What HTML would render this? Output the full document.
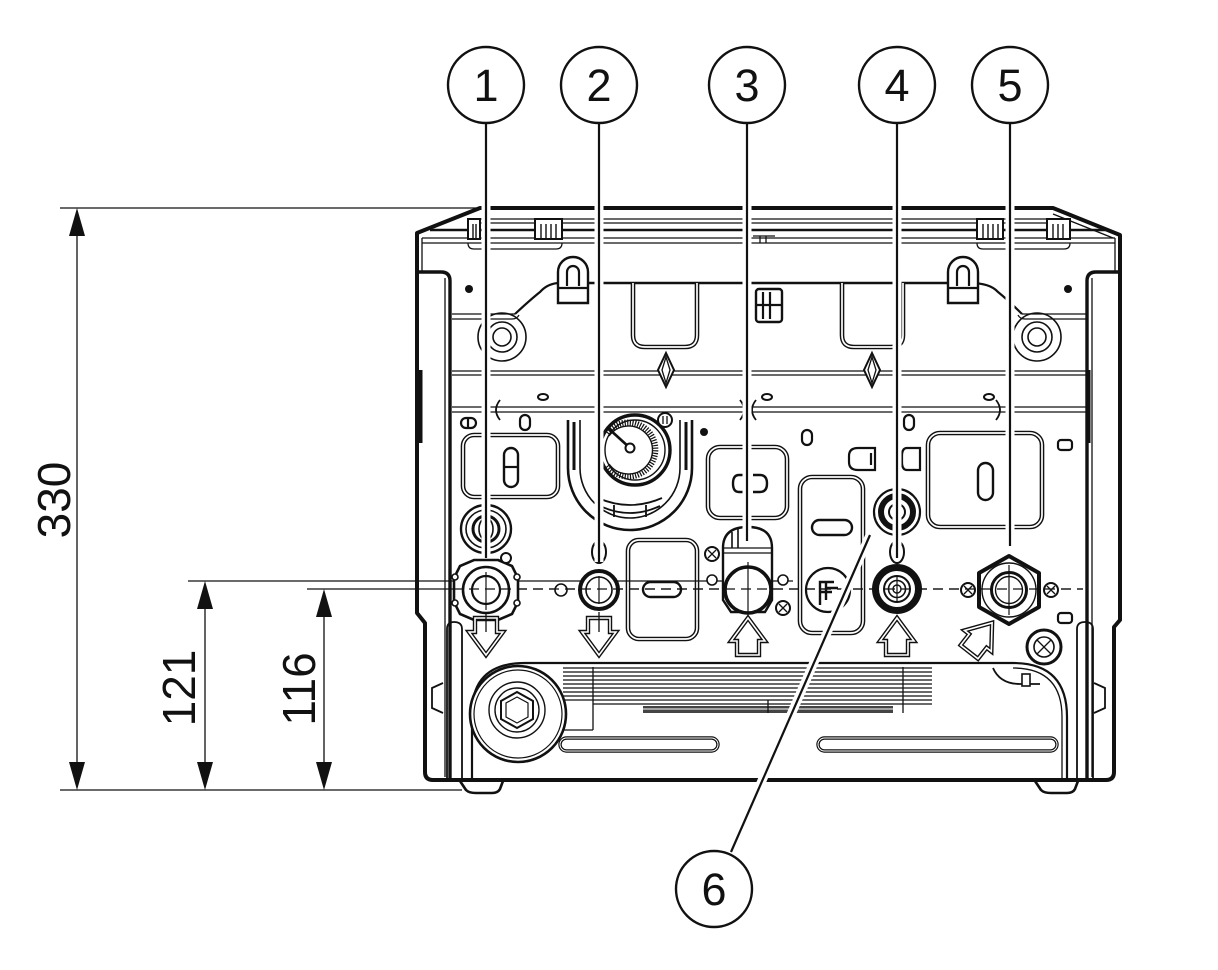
<!DOCTYPE html>
<html><head><meta charset="utf-8"><style>html,body{margin:0;padding:0;background:#fff}svg{display:block}
.t{fill:none;stroke:#111;stroke-width:1.3}
.m{fill:none;stroke:#111;stroke-width:2.2}
.k{fill:none;stroke:#111;stroke-width:4}
.d1{fill:none;stroke:#111;stroke-width:4.6}
.d2{fill:none;stroke:#fff;stroke-width:1.7}
</style></head>
<body>
<svg width="1218" height="970" viewBox="0 0 1218 970" xmlns="http://www.w3.org/2000/svg" font-family="'Liberation Sans', Arial, sans-serif">
<defs>
 <path id="dn" d="M-11,0 L11,0 L11,14 L17,14 L0,37 L-17,14 L-11,14 Z"/>
 <path id="up" d="M-11,37 L11,37 L11,23 L17,23 L0,0 L-17,23 L-11,23 Z"/>
 <rect id="rrL" x="463" y="435" width="95" height="62" rx="11"/>
 <rect id="rrM1" x="708" y="447" width="79" height="71" rx="12"/>
 <rect id="rrM2" x="628" y="540" width="69" height="99" rx="11"/>
 <rect id="rrT" x="800" y="477" width="63" height="156" rx="12"/>
 <rect id="rrR" x="928" y="433" width="114" height="94" rx="12"/>
 <path id="pkL" d="M633,283 V335 Q633,347 645,347 H685 Q697,347 697,335 V283"/>
 <path id="pkR" d="M842,283 V335 Q842,347 854,347 H891 Q903,347 903,335 V283"/>
 <path id="dmL" d="M666,353 L674,370 L666,387 L658,370 Z"/>
 <path id="dmR" d="M872,353 L880,370 L872,387 L864,370 Z"/>
 <path id="hkL" d="M558,303 V272 A15,15 0 0 1 588,272 V303 Z"/>
 <path id="hkR" d="M948,303 V272 A15,15 0 0 1 978,272 V303 Z"/>
 <path id="strL" d="M447,780 V629 Q447,622 454,622 Q462,622 462,629 V780"/>
 <path id="strR" d="M1077,780 V629 Q1077,622 1085,622 Q1093,622 1093,629 V780"/>
 <rect id="slL" x="560" y="738" width="158" height="13" rx="6.5"/>
 <rect id="slR" x="818" y="738" width="239" height="13" rx="6.5"/>
</defs>

<!-- ===== BODY OUTER ===== -->
<path class="k" d="M480,208 H1053 L1120,235 V620 L1114,627 V772 Q1114,780 1106,780 H433 Q425,780 425,772 V623 L417,613 V233 Z" stroke-linejoin="round"/>
<!-- feet -->
<path class="m" d="M460,781 L466,790 Q469,793 476,793 H492 Q498,793 500,789 L503,781" style="stroke-width:2.6"/>
<path class="m" d="M1035,781 L1041,790 Q1044,793 1051,793 H1067 Q1073,793 1075,789 L1078,781" style="stroke-width:2.6"/>

<!-- top strip lines -->
<line class="t" x1="480" y1="219" x2="1060" y2="219"/>
<line class="t" x1="470" y1="223" x2="1068" y2="223"/>
<line x1="430" y1="230" x2="1105" y2="230" stroke="#111" stroke-width="2.6"/>
<line class="t" x1="422" y1="238" x2="1115" y2="238"/>
<line class="t" x1="422" y1="243" x2="1115" y2="243"/>
<line class="t" x1="1053" y1="214" x2="1113" y2="238"/>
<path class="t" d="M468,243 Q468,249 474,249 H556 Q562,249 562,243"/>
<path class="t" d="M977,243 Q977,249 983,249 H1064 Q1070,249 1070,243"/>
<!-- clips -->
<g fill="#fff" stroke="#111" stroke-width="2">
<rect x="468" y="219" width="12" height="20"/>
<rect x="535" y="219" width="27" height="20"/>
<rect x="977" y="219" width="26" height="20"/>
<rect x="1047" y="219" width="23" height="20"/>
</g>
<g stroke="#111" stroke-width="1.4">
<line x1="473" y1="224" x2="473" y2="238"/><line x1="476" y1="224" x2="476" y2="238"/>
<line x1="541" y1="224" x2="541" y2="238"/><line x1="546" y1="224" x2="546" y2="238"/><line x1="551" y1="224" x2="551" y2="238"/><line x1="556" y1="224" x2="556" y2="238"/>
<line x1="983" y1="224" x2="983" y2="238"/><line x1="988" y1="224" x2="988" y2="238"/><line x1="993" y1="224" x2="993" y2="238"/><line x1="998" y1="224" x2="998" y2="238"/>
<line x1="1053" y1="224" x2="1053" y2="238"/><line x1="1058" y1="224" x2="1058" y2="238"/><line x1="1063" y1="224" x2="1063" y2="238"/>
</g>
<path class="t" d="M760,243 V236 M753,236 H775 M766,236 V243"/>

<!-- inner wall thin lines -->
<line class="t" x1="422" y1="238" x2="422" y2="272"/>
<line class="t" x1="1115" y1="238" x2="1115" y2="272"/>

<!-- left side panel -->
<path class="k" d="M417,272 H441 Q450,272 450,281 V780" style="stroke-width:3.4"/>
<line class="t" x1="445" y1="278" x2="445" y2="777"/>
<line x1="420" y1="370" x2="420" y2="443" stroke="#111" stroke-width="5"/>
<!-- right side panel -->
<path class="k" d="M1120,272 H1096 Q1087,272 1087,281 V780" style="stroke-width:3.4"/>
<line class="t" x1="1092" y1="278" x2="1092" y2="777"/>
<line x1="1088" y1="370" x2="1088" y2="443" stroke="#111" stroke-width="5"/>

<!-- hooks & curve -->
<line x1="557" y1="283" x2="973" y2="283" stroke="#111" stroke-width="2.6"/>
<path class="m" d="M515,314 Q530,300 540,292 Q548,283 560,283"/>
<path class="m" d="M1022,314 Q1008,300 998,292 Q990,283 970,283"/>
<path class="t" d="M452,314 H515 M452,319 H512 Q517,319 519,315"/>
<path class="t" d="M1087,314 H1022 M1087,319 H1025 Q1020,319 1018,315"/>
<use href="#hkL" fill="#fff" stroke="#111" stroke-width="2.4"/>
<use href="#hkR" fill="#fff" stroke="#111" stroke-width="2.4"/>
<path class="m" d="M567,286 V272 A6,6 0 0 1 579,272 V286"/>
<path class="m" d="M957,286 V272 A6,6 0 0 1 969,272 V286"/>
<line class="m" x1="558" y1="288" x2="588" y2="288"/>
<line class="m" x1="948" y1="288" x2="978" y2="288"/>
<!-- dots -->
<circle cx="469" cy="289" r="4" fill="#111"/>
<circle cx="1068" cy="289" r="4" fill="#111"/>
<circle cx="704" cy="432" r="4" fill="#111"/>
<!-- round bosses -->
<g class="t" style="stroke-width:1.6"><circle cx="502" cy="337" r="24"/><circle cx="502" cy="337" r="15"/><circle cx="502" cy="337" r="9"/>
<circle cx="1037" cy="337" r="24"/><circle cx="1037" cy="337" r="15"/><circle cx="1037" cy="337" r="9"/></g>
<!-- pockets -->
<use href="#pkL" class="d1"/><use href="#pkL" class="d2"/>
<use href="#pkR" class="d1"/><use href="#pkR" class="d2"/>
<!-- clip symbol -->
<rect x="756" y="289" width="26" height="33" rx="3" fill="#fff" stroke="#111" stroke-width="2.4"/>
<path class="m" d="M763,292 V319 M770,292 V319 M756,305 H782"/>

<!-- ribs -->
<line class="t" x1="452" y1="371" x2="1087" y2="371"/>
<line class="t" x1="452" y1="375" x2="1087" y2="375"/>
<line class="t" x1="452" y1="407" x2="1087" y2="407"/>
<line class="t" x1="452" y1="412" x2="1087" y2="412"/>
<use href="#dmL" fill="#fff" stroke="#111" stroke-width="2"/>
<use href="#dmR" fill="#fff" stroke="#111" stroke-width="2"/>
<path class="t" d="M666,357 L670,370 L666,383 L662,370 Z M872,357 L876,370 L872,383 L868,370 Z"/>
<g fill="#fff" stroke="#111" stroke-width="2">
<ellipse cx="543" cy="397" rx="5" ry="3"/><ellipse cx="767" cy="397" rx="5" ry="3"/><ellipse cx="989" cy="397" rx="5" ry="3"/>
</g>
<path class="m" d="M484,400 Q492,410 484,420 M500,400 Q492,410 500,420 M740,400 Q748,410 740,420 M756,400 Q748,410 756,420 M996,400 Q1004,410 996,420 M1012,400 Q1004,410 1012,420" style="stroke-width:1.8"/>

<!-- small features row -->
<rect x="461" y="418" width="15" height="10" rx="5" fill="#fff" stroke="#111" stroke-width="2.2"/>
<line class="m" x1="468" y1="418" x2="468" y2="428"/>
<rect x="520" y="415" width="10" height="15" rx="5" fill="#fff" stroke="#111" stroke-width="2.2"/>
<rect x="802" y="430" width="10" height="15" rx="5" fill="#fff" stroke="#111" stroke-width="2.2"/>
<rect x="799" y="415" width="10" height="15" rx="5" fill="#fff" stroke="#111" stroke-width="2.2" transform="translate(105,0)"/>
<path d="M875,448 H858 Q849,448 849,456 V462 Q849,470 858,470 H875 Z" fill="#fff" stroke="#111" stroke-width="2.2"/>
<line class="m" x1="871" y1="453" x2="871" y2="465"/>
<path d="M920,448 H907 Q902,448 902,456 V462 Q902,470 907,470 H920 Z" fill="#fff" stroke="#111" stroke-width="2.2"/>
<rect x="1058" y="440" width="14" height="10" rx="3" fill="#fff" stroke="#111" stroke-width="2.2"/>
<rect x="1058" y="613" width="14" height="10" rx="3" fill="#fff" stroke="#111" stroke-width="2.2"/>

<!-- left panel -->
<use href="#rrL" class="d1"/><use href="#rrL" class="d2"/>
<rect x="504" y="448" width="14" height="39" rx="7" fill="#fff" stroke="#111" stroke-width="2.4"/>
<line class="m" x1="504" y1="467" x2="518" y2="467"/>
<!-- right panel -->
<use href="#rrR" class="d1"/><use href="#rrR" class="d2"/>
<rect x="978" y="463" width="15" height="37" rx="7.5" fill="#fff" stroke="#111" stroke-width="2.4"/>
<!-- middle panels -->
<use href="#rrM1" class="d1"/><use href="#rrM1" class="d2"/>
<path class="m" d="M745,475 H739 Q733,475 733,483.5 Q733,492 739,492 H745 Z M753,475 H760 Q767,475 767,483.5 Q767,492 760,492 H753" style="stroke-width:2.4"/>
<use href="#rrM2" class="d1"/><use href="#rrM2" class="d2"/>
<rect x="643" y="582" width="38" height="15" rx="7.5" fill="#fff" stroke="#111" stroke-width="2.4"/>
<use href="#rrT" class="d1"/><use href="#rrT" class="d2"/>
<rect x="812" y="520" width="40" height="15" rx="7.5" fill="#fff" stroke="#111" stroke-width="2.4"/>
<circle cx="828" cy="590" r="22" fill="#fff" stroke="#111" stroke-width="2.2"/>
<path class="m" d="M820,605 V582 H834 M820,592 H832 M826,582 V600 M826,588 H838" style="stroke-width:2.4"/>

<!-- gauge -->
<path class="m" d="M568,420 V468 A62,62 0 0 0 692,468 V420" style="stroke-width:2.6"/>
<path class="t" d="M580,420 V468 A50,50 0 0 0 680,468 V420" style="stroke-width:1.6"/>
<line x1="574" y1="422" x2="574" y2="470" stroke="#111" stroke-width="3"/>
<line x1="686" y1="422" x2="686" y2="470" stroke="#111" stroke-width="3"/>
<path class="t" d="M598,498 Q630,512 662,498 M600,506 Q630,520 660,506 M614,505 V517 M646,505 V517" style="stroke-width:1.8"/>
<circle cx="635" cy="450" r="35" fill="#fff" stroke="#111" stroke-width="3.4"/>
<circle cx="635" cy="450" r="30" fill="none" stroke="#111" stroke-width="1.4"/>
<path d="M607,433 A27,27 0 1 1 607,466" fill="none" stroke="#111" stroke-width="6" stroke-dasharray="1.2 1.4"/>
<path d="M609,436 A24,24 0 1 1 609,464" fill="none" stroke="#111" stroke-width="1.4"/>
<line x1="630" y1="448" x2="608" y2="428" stroke="#111" stroke-width="2.6"/>
<circle cx="630" cy="448" r="4.5" fill="#fff" stroke="#111" stroke-width="2"/>
<circle cx="665" cy="420" r="7" fill="#fff" stroke="#111" stroke-width="2"/>
<path class="t" d="M663,416 V424 M667,416 V424"/>

<!-- grommets -->
<g fill="none" stroke="#111">
<ellipse cx="486" cy="529" rx="25" ry="24" stroke-width="2.4"/>
<ellipse cx="486" cy="529" rx="20" ry="19" stroke-width="1.6"/>
<ellipse cx="486" cy="529" rx="13" ry="13" stroke-width="3"/>
<ellipse cx="486" cy="529" rx="7" ry="11" stroke-width="1.6"/>
<circle cx="897" cy="512" r="23" stroke-width="2.2"/>
<circle cx="897" cy="512" r="16" stroke-width="6"/>
<circle cx="897" cy="512" r="8" stroke-width="2"/>
<ellipse cx="599" cy="552" rx="7" ry="11" stroke-width="2"/>
<ellipse cx="897" cy="552" rx="7" ry="11" stroke-width="2"/>
</g>

<!-- ===== BOTTOM SECTION ===== -->
<path class="m" d="M472,780 V713 Q472,663 525,663 H1013 Q1067,663 1067,717 V780" style="stroke-width:2.2"/>
<path class="t" d="M1013,668 Q1062,668 1062,717 V780"/>
<g stroke="#111" stroke-width="1.2">
<line x1="563" y1="668" x2="932" y2="668"/><line x1="563" y1="672" x2="932" y2="672"/>
<line x1="563" y1="676" x2="932" y2="676"/><line x1="563" y1="680" x2="932" y2="680"/>
<line x1="563" y1="684" x2="932" y2="684"/><line x1="563" y1="688" x2="932" y2="688"/>
<line x1="563" y1="692" x2="932" y2="692"/><line x1="563" y1="696" x2="932" y2="696"/>
<line x1="563" y1="700" x2="932" y2="700"/><line x1="593" y1="704" x2="932" y2="704"/>
</g>
<rect x="643" y="706" width="250" height="7" fill="#444"/>
<line class="t" x1="643" y1="709" x2="893" y2="709" style="stroke:#fff;stroke-width:1"/>
<line class="t" x1="593" y1="667" x2="593" y2="730"/>
<line class="t" x1="563" y1="730" x2="593" y2="730"/>
<line class="t" x1="903" y1="667" x2="903" y2="713"/>
<line class="t" x1="768" y1="700" x2="768" y2="713"/>
<!-- big fitting -->
<circle cx="518" cy="714" r="48" fill="#fff" stroke="#111" stroke-width="2.6"/>
<circle cx="518" cy="714" r="44" fill="none" stroke="#111" stroke-width="1.2"/>
<circle cx="517" cy="710" r="28" fill="none" stroke="#111" stroke-width="1.4"/>
<circle cx="517" cy="710" r="22" fill="none" stroke="#111" stroke-width="1.4"/>
<polygon points="517,692 533,701 533,719 517,728 501,719 501,701" fill="none" stroke="#111" stroke-width="2"/>
<polygon points="517,697 528,703 528,717 517,723 506,717 506,703" fill="none" stroke="#111" stroke-width="1.2"/>
<!-- slots -->
<use href="#slL" class="d1" style="stroke-width:3.4"/><use href="#slL" class="d2" style="stroke-width:1"/>
<use href="#slR" class="d1" style="stroke-width:3.4"/><use href="#slR" class="d2" style="stroke-width:1"/>
<!-- strips & bumps -->
<use href="#strL" class="m" style="stroke-width:1.8"/>
<use href="#strR" class="m" style="stroke-width:1.8"/>
<path class="m" d="M443,683 L432,688 V708 L443,713" style="stroke-width:1.8"/>
<path class="m" d="M1094,683 L1105,688 V708 L1094,713" style="stroke-width:1.8"/>
<!-- cable -->
<path class="m" d="M993,668 Q1000,684 1020,684 H1040" style="stroke-width:1.8"/>
<rect x="1022" y="674" width="8" height="12" fill="#fff" stroke="#111" stroke-width="1.6"/>

<!-- ground screw -->
<circle cx="1044" cy="647" r="17" fill="#fff" stroke="#111" stroke-width="3"/>
<circle cx="1044" cy="647" r="10" fill="none" stroke="#111" stroke-width="1.6"/>
<path class="t" d="M1037,640 L1051,654 M1051,640 L1037,654"/>

<!-- ===== CENTER LINES ===== -->
<line x1="188" y1="581" x2="793" y2="581" stroke="#111" stroke-width="1.3"/>
<line x1="307" y1="589" x2="453" y2="589" stroke="#111" stroke-width="1.3"/>
<line x1="453" y1="589" x2="1083" y2="589" stroke="#111" stroke-width="1.3" stroke-dasharray="10 6"/>

<!-- ===== CONNECTIONS ===== -->
<!-- 1 -->
<polygon points="498,560 512,566 518,578 518,602 512,614 498,620 474,620 460,614 454,602 454,578 460,566 474,560" fill="#fff" stroke="#111" stroke-width="2.6"/>
<circle cx="486" cy="590" r="23" fill="none" stroke="#111" stroke-width="2.6"/>
<circle cx="486" cy="590" r="14" fill="none" stroke="#111" stroke-width="2.2"/>
<g fill="#fff" stroke="#111" stroke-width="1.6">
<circle cx="455" cy="577" r="3"/><circle cx="517" cy="577" r="3"/><circle cx="455" cy="603" r="3"/><circle cx="517" cy="603" r="3"/>
</g>
<circle cx="506" cy="558" r="5" fill="#fff" stroke="#111" stroke-width="2"/>
<!-- 2 -->
<circle cx="561" cy="590" r="6" fill="#fff" stroke="#111" stroke-width="1.6"/>
<circle cx="599" cy="590" r="19" fill="#fff" stroke="#111" stroke-width="4"/>
<circle cx="599" cy="590" r="13" fill="none" stroke="#111" stroke-width="1.6"/>
<!-- 3 -->
<path d="M723,600 V548 Q723,527 748,527 Q772,527 772,548 V600 L765,612 H731 Z" fill="#fff" stroke="#111" stroke-width="2.4"/>
<line class="t" x1="723" y1="548" x2="772" y2="548"/>
<line class="t" x1="723" y1="553" x2="772" y2="553"/>
<path class="m" d="M732,532 V548 M738,529 V548" style="stroke-width:1.6"/>
<circle cx="748" cy="590" r="23" fill="#fff" stroke="#111" stroke-width="3.6"/>
<circle cx="712" cy="580" r="5" fill="#fff" stroke="#111" stroke-width="1.6"/>
<circle cx="783" cy="580" r="5" fill="#fff" stroke="#111" stroke-width="1.6"/>
<g fill="#fff" stroke="#111" stroke-width="2">
<circle cx="712" cy="554" r="7"/><circle cx="783" cy="608" r="7"/>
<circle cx="968" cy="590" r="7"/><circle cx="1051" cy="590" r="7"/>
</g>
<path class="t" d="M708,550 L716,558 M716,550 L708,558 M779,604 L787,612 M787,604 L779,612 M964,586 L972,594 M972,586 L964,594 M1047,586 L1055,594 M1055,586 L1047,594"/>
<!-- 4 -->
<circle cx="897" cy="589" r="21.5" fill="#fff" stroke="#111" stroke-width="7"/>
<circle cx="897" cy="589" r="13" fill="none" stroke="#111" stroke-width="2"/>
<circle cx="897" cy="589" r="8.5" fill="none" stroke="#111" stroke-width="1.6"/>
<circle cx="897" cy="589" r="4" fill="none" stroke="#111" stroke-width="1.4"/>
<!-- 5 -->
<polygon points="1009,556 1039,573 1039,607 1009,624 979,607 979,573" fill="#fff" stroke="#111" stroke-width="4" stroke-linejoin="round"/>
<circle cx="1009" cy="590" r="27" fill="none" stroke="#111" stroke-width="1.4"/>
<circle cx="1009" cy="590" r="17.5" fill="none" stroke="#111" stroke-width="3"/>
<circle cx="1009" cy="590" r="13.5" fill="none" stroke="#111" stroke-width="1.4"/>

<!-- crosshairs -->
<g stroke="#111" stroke-width="1.2">
<line x1="486" y1="572" x2="486" y2="610"/><line x1="599" y1="576" x2="599" y2="604"/>
<line x1="748" y1="562" x2="748" y2="618"/><line x1="897" y1="577" x2="897" y2="601"/>
<line x1="1009" y1="565" x2="1009" y2="615"/>
</g>
<line class="t" x1="453" y1="589" x2="1083" y2="589" stroke-dasharray="10 6" style="stroke-width:1.2"/>

<!-- arrows -->
<use href="#dn" x="486" y="618" class="d1" style="stroke-width:4.4"/><use href="#dn" x="486" y="618" class="d2" style="stroke-width:1.6"/>
<use href="#dn" x="599" y="618" class="d1" style="stroke-width:4.4"/><use href="#dn" x="599" y="618" class="d2" style="stroke-width:1.6"/>
<use href="#up" x="748" y="618" class="d1" style="stroke-width:4.4"/><use href="#up" x="748" y="618" class="d2" style="stroke-width:1.6"/>
<use href="#up" x="897" y="618" class="d1" style="stroke-width:4.4"/><use href="#up" x="897" y="618" class="d2" style="stroke-width:1.6"/>
<g transform="translate(981,637) rotate(38) translate(0,-18)">
<use href="#up" class="d1" style="stroke-width:4.4"/><use href="#up" class="d2" style="stroke-width:1.6"/>
</g>
<line class="t" x1="486" y1="612" x2="486" y2="632"/>
<line class="t" x1="599" y1="612" x2="599" y2="632"/>

<!-- ===== LEADERS ===== -->
<g stroke="#fff" stroke-width="9" fill="none">
<line x1="486" y1="124" x2="486" y2="558"/>
<line x1="599" y1="124" x2="599" y2="562"/>
<line x1="747" y1="124" x2="747" y2="541"/>
<line x1="897" y1="124" x2="897" y2="558"/>
<line x1="1010" y1="124" x2="1010" y2="546"/>
<line x1="870" y1="535" x2="731" y2="851"/>
</g>
<g stroke="#111" stroke-width="2.2" fill="none">
<line x1="486" y1="122" x2="486" y2="558"/>
<line x1="599" y1="122" x2="599" y2="562"/>
<line x1="747" y1="122" x2="747" y2="541"/>
<line x1="897" y1="122" x2="897" y2="558"/>
<line x1="1010" y1="122" x2="1010" y2="546"/>
<line x1="870" y1="535" x2="731" y2="852"/>
</g>

<!-- ===== CALLOUT CIRCLES ===== -->
<g fill="#fff" stroke="#111" stroke-width="2.4">
<circle cx="486" cy="85" r="38"/>
<circle cx="599" cy="85" r="38"/>
<circle cx="747" cy="85" r="38"/>
<circle cx="897" cy="85" r="38"/>
<circle cx="1010" cy="85" r="38"/>
<circle cx="714" cy="889" r="38"/>
</g>
<g font-size="45" fill="#111" text-anchor="middle">
<text x="486" y="101">1</text>
<text x="599" y="101">2</text>
<text x="747" y="101">3</text>
<text x="897" y="101">4</text>
<text x="1010" y="101">5</text>
<text x="714" y="905">6</text>
</g>

<!-- ===== DIMENSIONS ===== -->
<g stroke="#111" stroke-width="1.3">
<line x1="60" y1="208" x2="480" y2="208"/>
<line x1="60" y1="790" x2="462" y2="790"/>
<line x1="77" y1="230" x2="77" y2="768"/>
<line x1="205" y1="603" x2="205" y2="768"/>
<line x1="324" y1="611" x2="324" y2="768"/>
</g>
<g fill="#111">
<polygon points="77,208 69,236 85,236"/>
<polygon points="77,790 69,762 85,762"/>
<polygon points="205,581 197,609 213,609"/>
<polygon points="205,790 197,762 213,762"/>
<polygon points="324,589 316,617 332,617"/>
<polygon points="324,790 316,762 332,762"/>
</g>
<g font-size="46" fill="#111" text-anchor="middle">
<text transform="translate(70,500) rotate(-90)">330</text>
<text transform="translate(195,688) rotate(-90)">121</text>
<text transform="translate(315,689) rotate(-90)">116</text>
</g>
</svg>
</body></html>
